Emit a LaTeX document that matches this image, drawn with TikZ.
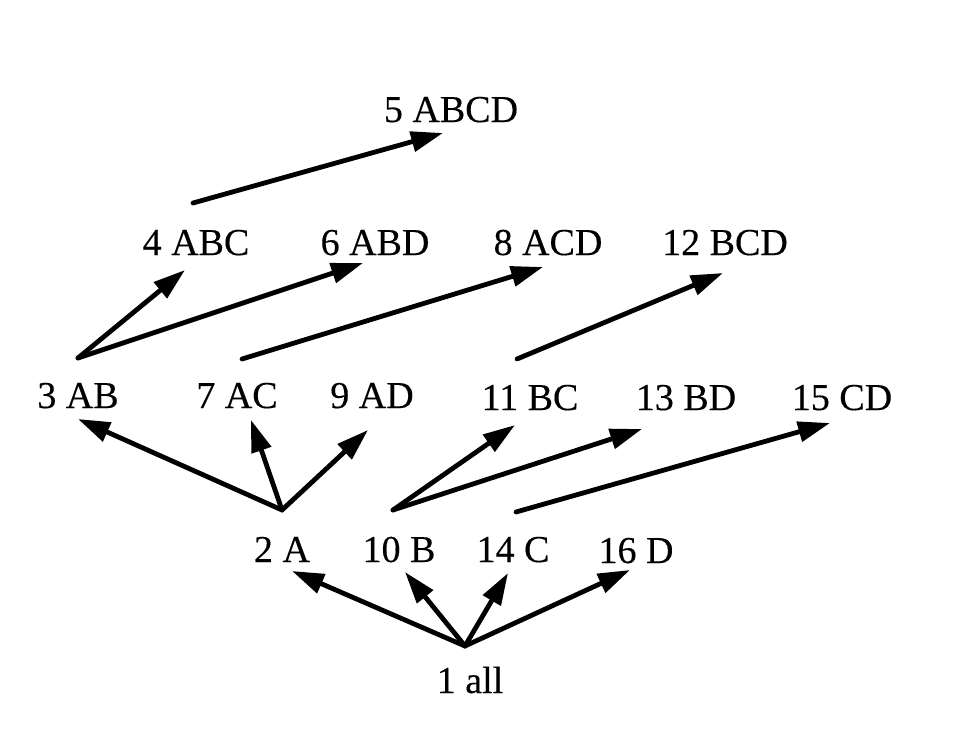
\documentclass[tikz,border=0pt]{standalone}
\usepackage{fontspec}
\setmainfont{Liberation Serif}
\newfontfamily\lblfont{Liberation Serif}[FakeBold=0.3]
\usetikzlibrary{arrows.meta}
\begin{document}
\begin{tikzpicture}[x=1pt,y=-1pt,
  lbl/.style={anchor=base,inner sep=0pt,font=\lblfont\fontsize{38}{40}\selectfont},
  arr/.style={line width=4.8pt,line cap=round,-{Triangle[length=32pt,width=20pt]}}]
\useasboundingbox (0,0) rectangle (960,728);
% level 4
\node[lbl] (n5) at (451,122) {5 ABCD};
% level 3
\node[lbl] (n4) at (196,255) {4 ABC};
\node[lbl] (n6) at (375,255) {6 ABD};
\node[lbl] (n8) at (548,255) {8 ACD};
\node[lbl] (n12) at (725,255) {12 BCD};
% level 2
\node[lbl] (n3) at (78,408) {3 AB};
\node[lbl] (n7) at (237,408) {7 AC};
\node[lbl] (n9) at (372,408) {9 AD};
\node[lbl] (n11) at (530,410) {11 BC};
\node[lbl] (n13) at (686,410) {13 BD};
\node[lbl] (n15) at (842,410) {15 CD};
% level 1
\node[lbl] (n2) at (282,562) {2 A};
\node[lbl] (n10) at (399,562) {10 B};
\node[lbl] (n14) at (513,562) {14 C};
\node[lbl] (n16) at (636,563) {16 D};
% root
\node[lbl] (n1) at (470,693) {1 all};
% edges
\draw[arr] ([shift={(-3,-52)}]n4.base) -- ([shift={(-8,11)}]n5.base);
\draw[arr] ([shift={(0,-50)}]n3.base) -- ([shift={(-11,15)}]n4.base);
\draw[arr] ([shift={(0,-50)}]n3.base) -- ([shift={(-12,8)}]n6.base);
\draw[arr] ([shift={(5,-49)}]n7.base) -- ([shift={(-5,12)}]n8.base);
\draw[arr] ([shift={(-13,-51)}]n11.base) -- ([shift={(-2,18)}]n12.base);
\draw[arr] ([shift={(0,-52)}]n2.base) -- ([shift={(0,11)}]n3.base);
\draw[arr] ([shift={(0,-52)}]n2.base) -- ([shift={(14,12)}]n7.base);
\draw[arr] ([shift={(0,-52)}]n2.base) -- ([shift={(-4,22)}]n9.base);
\draw[arr] ([shift={(-6,-52)}]n10.base) -- ([shift={(-15,15)}]n11.base);
\draw[arr] ([shift={(-6,-52)}]n10.base) -- ([shift={(-44,19)}]n13.base);
\draw[arr] ([shift={(3,-50)}]n14.base) -- ([shift={(-12,13)}]n15.base);
\draw[arr] ([shift={(-5,-47)}]n1.base) -- ([shift={(10,9)}]n2.base);
\draw[arr] ([shift={(-5,-47)}]n1.base) -- ([shift={(6,10)}]n10.base);
\draw[arr] ([shift={(-5,-47)}]n1.base) -- ([shift={(-5,11)}]n14.base);
\draw[arr] ([shift={(-5,-47)}]n1.base) -- ([shift={(-6,7)}]n16.base);
\end{tikzpicture}
\end{document}
